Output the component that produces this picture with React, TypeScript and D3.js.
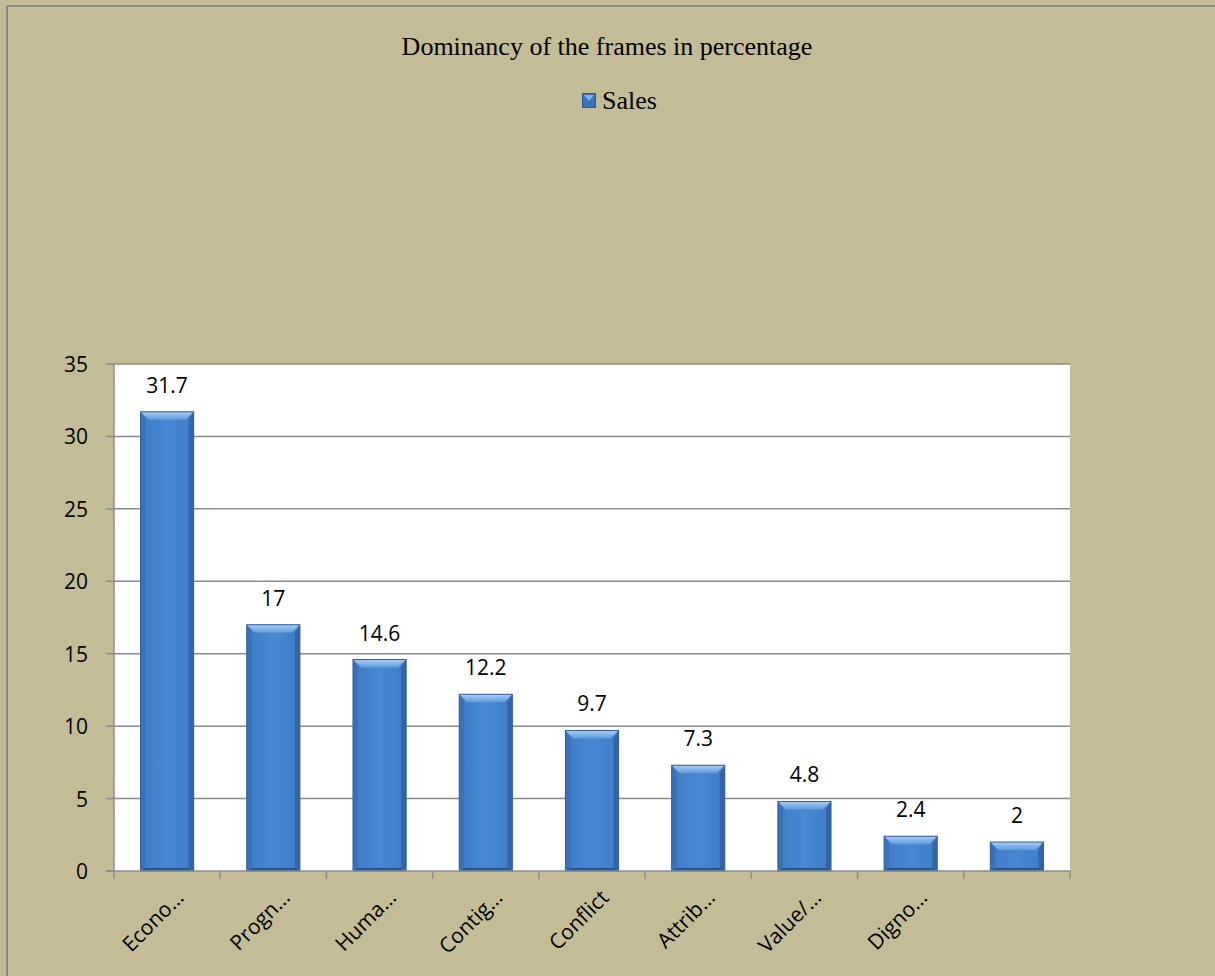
import React from "react";
import * as d3 from "d3";

const categories = ["Econo…", "Progn…", "Huma…", "Contig…", "Conflict", "Attrib…", "Value/…", "Digno…", ""];
const values = [31.7, 17, 14.6, 12.2, 9.7, 7.3, 4.8, 2.4, 2];
const yTicks = [0, 5, 10, 15, 20, 25, 30, 35];
const title = "Dominancy of the frames in percentage";
const seriesName = "Sales";

const W = 1215;
const H = 976;
const plot = { left: 114, right: 1070, top: 364, bottom: 871 };
const sans = "'Open Sans', 'Noto Sans', sans-serif";
const serif = "'Liberation Serif', 'Times New Roman', serif";

export default function App() {
  const x = d3.scaleBand<number>().domain(d3.range(categories.length)).range([plot.left, plot.right]).paddingInner(0.5).paddingOuter(0.25);
  const xb = d3.scaleBand<number>().domain(d3.range(categories.length)).range([plot.left, plot.right]);
  const y = d3.scaleLinear().domain([0, 35]).range([plot.bottom, plot.top]);
  const bw = x.bandwidth();
  const bev = 8;

  return (
    <svg width={W} height={H} style={{ position: "absolute", left: 0, top: 0 }}>
      <defs>
        <linearGradient id="face" x1="0" x2="1" y1="0" y2="0">
          <stop offset="0" stopColor="#3f7cc6" />
          <stop offset="0.5" stopColor="#4a88d4" />
          <stop offset="1" stopColor="#3f7cc6" />
        </linearGradient>
        <linearGradient id="topb" x1="0" x2="0" y1="0" y2="1">
          <stop offset="0" stopColor="#a9cdf4" />
          <stop offset="1" stopColor="#5d9be0" />
        </linearGradient>
      </defs>
      <rect x={0} y={0} width={W} height={H} fill="#c4bc97" />
      <rect x={7} y={6} width={W + 10} height={H + 10} fill="none" stroke="#8a8a8a" strokeWidth={2} />
      <text x={607} y={55} textAnchor="middle" fontFamily={serif} fontSize={26} fill="#000">
        {title}
      </text>
      <g>
        <rect x={582.5} y={93.5} width={13} height={14} fill="#3a72b8" stroke="#2a5a96" strokeWidth={1} />
        <polygon points="584,95 594,95 589,101" fill="#7fb2ea" />
        <text x={602} y={109} fontFamily={serif} fontSize={26} fill="#000">
          {seriesName}
        </text>
      </g>
      <rect x={plot.left} y={plot.top} width={plot.right - plot.left} height={plot.bottom - plot.top} fill="#ffffff" />
      {yTicks.map((t) => (
        <g key={t}>
          {t > 0 && <line x1={plot.left} x2={plot.right} y1={y(t)} y2={y(t)} stroke="#8c8c8c" strokeWidth={1.5} />}
          <line x1={plot.left - 8} x2={plot.left} y1={y(t)} y2={y(t)} stroke="#8c8c8c" strokeWidth={1.5} />
          <text x={88} y={y(t) + 8} textAnchor="end" fontFamily={sans} fontSize={21} fill="#000">
            {t}
          </text>
        </g>
      ))}
      <line x1={plot.left} x2={plot.left} y1={plot.top} y2={plot.bottom} stroke="#8c8c8c" strokeWidth={1.5} />
      {values.map((v, i) => {
        const x0 = x(i)!;
        const x1 = x0 + bw;
        const y0 = y(v);
        const y1 = y(0);
        const b = Math.min(bev, (y1 - y0) / 2);
        return (
          <g key={i}>
            <rect x={x0} y={y0} width={bw} height={y1 - y0} fill="url(#face)" />
            <polygon points={`${x0},${y0} ${x1},${y0} ${x1 - b},${y0 + b} ${x0 + b},${y0 + b}`} fill="url(#topb)" />
            <polygon points={`${x0},${y0} ${x0 + 5},${y0 + b} ${x0 + 5},${y1 - 3} ${x0},${y1}`} fill="#3a6fb3" opacity={0.8} />
            <polygon points={`${x1},${y0} ${x1 - 5},${y0 + b} ${x1 - 5},${y1 - 3} ${x1},${y1}`} fill="#2f5f9e" opacity={0.8} />
            <polygon points={`${x0},${y1} ${x1},${y1} ${x1 - 5},${y1 - 3} ${x0 + 5},${y1 - 3}`} fill="#2a5690" />
            <rect x={x0} y={y0} width={bw} height={y1 - y0} fill="none" stroke="#2f5f9a" strokeWidth={1} />
            <text x={x0 + bw / 2} y={y0 - 19} textAnchor="middle" fontFamily={sans} fontSize={21} fill="#000">
              {String(v)}
            </text>
          </g>
        );
      })}
      <line x1={plot.left - 8} x2={plot.right} y1={plot.bottom} y2={plot.bottom} stroke="#8c8c8c" strokeWidth={1.5} />
      {d3.range(categories.length + 1).map((i) => {
        const tx = i < categories.length ? xb(i)! : plot.right;
        return <line key={i} x1={tx} x2={tx} y1={plot.bottom} y2={plot.bottom + 8} stroke="#8c8c8c" strokeWidth={1.5} />;
      })}
      {categories.map((c, i) => {
        const cx = xb(i)! + xb.bandwidth() / 2;
        return (
          <text
            key={i}
            transform={`translate(${cx + 18},${plot.bottom + 28}) rotate(-45)`}
            textAnchor="end"
            fontFamily={sans}
            fontSize={21}
            fill="#000"
          >
            {c}
          </text>
        );
      })}
    </svg>
  );
}
